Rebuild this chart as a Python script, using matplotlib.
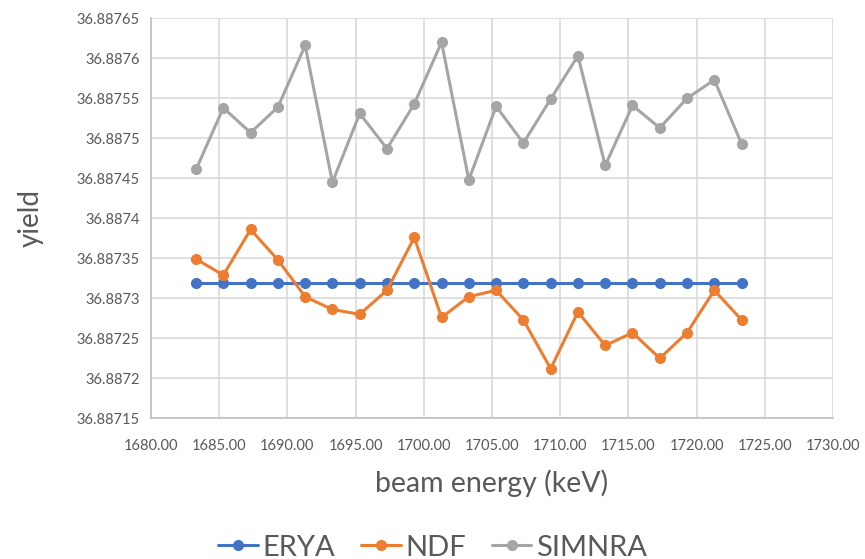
import matplotlib.pyplot as plt
from matplotlib.ticker import FixedLocator, FuncFormatter

plt.rcParams["font.family"] = ["Lato", "DejaVu Sans"]

energy = [1683.3 + 2 * i for i in range(21)]
erya = [36.8873195] * 21
ndf = [
    36.887349, 36.887329, 36.887386, 36.887348, 36.887302, 36.887286, 36.887280,
    36.887310, 36.887376, 36.887276, 36.887302, 36.887310, 36.887273, 36.887212,
    36.887283, 36.887241, 36.887257, 36.887225, 36.887257, 36.887310, 36.887273,
]
simnra = [
    36.887461, 36.887538, 36.887507, 36.887539, 36.887616, 36.887445, 36.887531,
    36.887487, 36.887543, 36.887620, 36.887448, 36.887540, 36.887494, 36.887549,
    36.887603, 36.887466, 36.887541, 36.887513, 36.887550, 36.887573, 36.887493,
]
series_names = ["ERYA", "NDF", "SIMNRA"]
colors = ["#4472C4", "#ED7D31", "#A5A5A5"]

y_ticks = [36.88715 + 0.00005 * i for i in range(11)]
x_ticks = list(range(1680, 1731, 5))
text_color = "#595959"


def ylabel_fmt(v, pos):
    return ("%.5f" % v).rstrip("0")


def main():
    fig = plt.figure(figsize=(8.65, 5.59), dpi=100)
    ax = fig.add_axes([0.1746, 0.2517, 0.7884, 0.7156])

    for name, ys, c in zip(series_names, [erya, ndf, simnra], colors):
        ax.plot(energy, ys, color=c, lw=2.2, marker="o", markersize=7,
                label=name, solid_capstyle="round", zorder=3)

    ax.set_xlim(1680, 1730)
    ax.set_ylim(y_ticks[0], y_ticks[-1])
    ax.xaxis.set_major_locator(FixedLocator(x_ticks))
    ax.yaxis.set_major_locator(FixedLocator(y_ticks))
    ax.xaxis.set_major_formatter(FuncFormatter(lambda v, p: "%.2f" % v))
    ax.yaxis.set_major_formatter(FuncFormatter(ylabel_fmt))
    ax.grid(True, color="#D9D9D9", lw=1.2, zorder=0)
    ax.set_axisbelow(True)
    for side in ["top", "right"]:
        ax.spines[side].set_visible(False)
    for side in ["left", "bottom"]:
        ax.spines[side].set_color("#BFBFBF")
        ax.spines[side].set_linewidth(1.2)
    ax.tick_params(length=0, colors=text_color, labelsize=10.5)
    ax.tick_params(axis="x", pad=15)
    ax.tick_params(axis="y", pad=8)

    ax.set_xlabel("beam energy (keV)", fontsize=20.5, color=text_color, labelpad=12)
    ax.set_ylabel("yield", fontsize=20, color=text_color, labelpad=24)

    fig.legend(loc="lower center", ncol=3, frameon=False, fontsize=21,
               bbox_to_anchor=(0.5, -0.05), labelcolor=text_color,
               handlelength=1.35, handletextpad=0.15, columnspacing=0.9)

    fig.savefig("out.png", dpi=100)


if __name__ == "__main__":
    main()
